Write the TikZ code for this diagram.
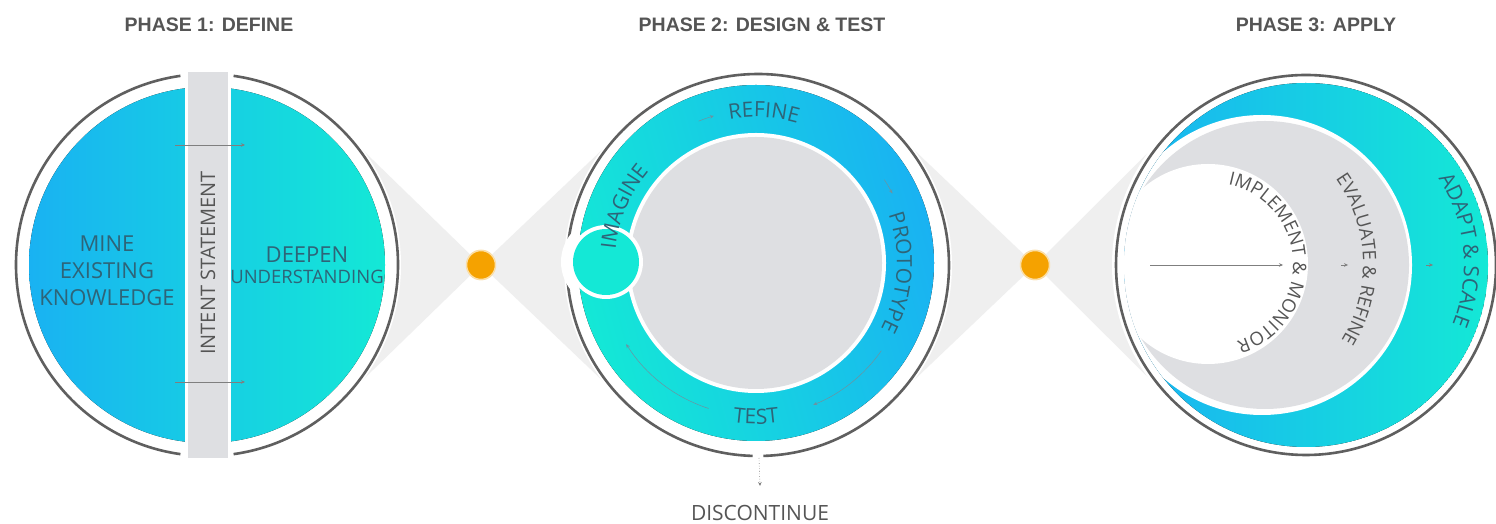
\documentclass[tikz,border=0pt]{standalone}
\usepackage{fontspec}
\setmainfont{Open Sans}
\newfontfamily\headfont{Liberation Sans}
\usetikzlibrary{calc,positioning,arrows.meta,decorations.text}

\definecolor{cyanC}{HTML}{14E8D6}
\definecolor{blueC}{HTML}{19B2F2}
\definecolor{ringC}{HTML}{5F5F5F}
\definecolor{greyC}{HTML}{DEDFE2}
\definecolor{bowC}{HTML}{EFEFEF}
\definecolor{dotC}{HTML}{F5A200}
\definecolor{txtC}{HTML}{2E6478}
\definecolor{labC}{HTML}{555555}

\newcommand\bandfont{\fontsize{21}{21}\selectfont}
\newcommand\arcfont{\fontsize{18.5}{18.5}\selectfont}

\begin{document}
\begin{tikzpicture}[x=1pt,y=1pt,
  lbl/.style={text=txtC, align=center, inner sep=0},
  ttl/.style={text=labC, inner sep=0, font=\headfont\bfseries\fontsize{19.5}{20}\selectfont},
  ringline/.style={draw=ringC, line width=2.6pt},
  flow/.style={draw=ringC!80, line width=0.6pt, -{Stealth[length=4pt,width=3.5pt]}}]
\tikzstyle{hub}=[circle, inner sep=0, outer sep=0, minimum size=382pt]
\tikzstyle{dot}=[circle, fill=dotC, draw=dotC!35, line width=1.5pt, minimum size=29pt, inner sep=0]
\fill[white] (0,0) rectangle (1496,524);
\useasboundingbox (0,0) rectangle (1496,524);

% centres
\node[hub] (circL) at (207,259) {};
\node[hub] (circM) at (758,259) {};
\node[hub] (circR) at (1306,259) {};
\coordinate (bandM) at (756,261);
\node[dot] (dotA) at (481,259) {};
\node[dot] (dotB) at (1035,259) {};

% grey bow ties
\coordinate (tA1) at (tangent cs:node=circL,point={(dotA)},solution=1);
\coordinate (tA2) at (tangent cs:node=circL,point={(dotA)},solution=2);
\coordinate (tA3) at (tangent cs:node=circM,point={(dotA)},solution=1);
\coordinate (tA4) at (tangent cs:node=circM,point={(dotA)},solution=2);
\coordinate (tB1) at (tangent cs:node=circM,point={(dotB)},solution=1);
\coordinate (tB2) at (tangent cs:node=circM,point={(dotB)},solution=2);
\coordinate (tB3) at (tangent cs:node=circR,point={(dotB)},solution=1);
\coordinate (tB4) at (tangent cs:node=circR,point={(dotB)},solution=2);
\fill[bowC] (dotA.center) -- (tA1) -- (circL.center) -- (tA2) -- cycle;
\fill[bowC] (dotA.center) -- (tA3) -- (circM.center) -- (tA4) -- cycle;
\fill[bowC] (dotB.center) -- (tB1) -- (circM.center) -- (tB2) -- cycle;
\fill[bowC] (dotB.center) -- (tB3) -- (circR.center) -- (tB4) -- cycle;
\foreach \c in {circL,circM,circR}{\fill[white] (\c.center) circle (194);}
\node[dot] at (dotA) {};
\node[dot] at (dotB) {};

% phase 1
\draw[ringline] ($(circL)+(82:191)$) arc[start angle=82, end angle=-82, radius=191];
\draw[ringline] ($(circL)+(98:191)$) arc[start angle=98, end angle=262, radius=191];
\fill[left color=blueC, right color=cyanC] (circL) circle (178);
\fill[white] (185,62) rectangle (231,456);
\fill[greyC] (188,66) rectangle (228,452);
\node[lbl, font=\fontsize{20}{20}\selectfont, text=labC, rotate=90] (intent) at (208,261) {INTENT STATEMENT};
\node[lbl, font=\fontsize{22}{27}\selectfont] (mine) at (107,253) {MINE\\EXISTING\\KNOWLEDGE};
\node[lbl, font=\fontsize{22}{22}\selectfont] (deepen) at (307,269) {DEEPEN};
\node[lbl, font=\fontsize{18.5}{18.5}\selectfont, below=7pt of deepen] (under) {UNDERSTANDING};
\foreach \yy/\nm in {379/up,142/dn}{
  \coordinate (\nm0) at (175,\yy);
  \coordinate (\nm1) at (245,\yy);
  \draw[flow] (\nm0) -- (\nm1);
}

% phase 2
\draw[ringline] ($(circM)+(-88.4:191)$) arc[start angle=-88.4, end angle=268.4, radius=191];
\coordinate (imag) at (606,262);
\fill[white] (imag) circle (45);
\fill[left color=cyanC, right color=blueC, shading angle=105] (bandM) circle (178);
\fill[white] (bandM) circle (130);
\fill[greyC] (bandM) circle (126);
\fill[white] (imag) circle (37);
\fill[cyanC] (imag) circle (33);
\path[decorate, decoration={text along path, text={|\bandfont|REFINE}, text align=center, text color=txtC}]
  ($(bandM)+(137:146)$) arc[start angle=137, end angle=37, radius=146];
\path[decorate, decoration={text along path, text={|\bandfont|PROTOTYPE}, text align=center, text color=txtC}]
  ($(bandM)+(46:141)$) arc[start angle=46, end angle=-54, radius=141];
\path[decorate, decoration={text along path, text={|\bandfont|TEST}, text align=center, text color=txtC}]
  ($(bandM)+(220:161)$) arc[start angle=220, end angle=320, radius=161];
\path[decorate, decoration={text along path, text={|\bandfont|IMAGINE}, text align=center, text color=txtC}]
  ($(bandM)+(207:141)$) arc[start angle=207, end angle=107, radius=141];
\foreach \a/\b in {112/106,33/27,-35/-68,-108/-148}{
  \draw[flow, draw=txtC!70, line width=0.5pt] ($(bandM)+(\a:153)$) arc[start angle=\a, end angle=\b, radius=153];
}
\coordinate (gapM) at (759,66);
\coordinate (endM) at (760,38);
\draw[flow, dotted] (gapM) -- (endM);
\node[text=labC, inner sep=0, font=\fontsize{21}{21}\selectfont] (disc) at (760,11) {DISCONTINUE};

% phase 3
\draw[ringline] (circR) circle (190);
\begin{scope}
  \clip (circR) circle (182);
  \fill[left color=blueC, right color=cyanC] (circR) circle (182);
  \fill[white] (1262,259) circle (150);
  \fill[greyC] (1265,259) circle (144);
  \fill[white] (1208,260) circle (100);
\end{scope}
\coordinate (tailR) at (1150,259);
\coordinate (headR) at (1283,259);
\draw[flow] (tailR) -- (headR);
\foreach \xx/\nm in {1348/ev,1433/ad}{
  \coordinate (\nm0) at (\xx-7,259);
  \coordinate (\nm1) at (\xx,259);
  \draw[flow, line width=0.4pt] (\nm0) -- (\nm1);
}
\path[decorate, decoration={text along path, text={|\arcfont|IMPLEMENT {\&} MONITOR}, text align=center, text color=labC}]
  ($(1212,260)+(93:81)$) arc[start angle=93, end angle=-87, radius=81];
\path[decorate, decoration={text along path, text={|\arcfont|EVALUATE {\&} REFINE}, text align=center, text color=labC}]
  ($(1216,260)+(62:147)$) arc[start angle=62, end angle=-58, radius=147];
\path[decorate, decoration={text along path, text={|\bandfont|ADAPT {\&} SCALE}, text align=center, text color=txtC}]
  ($(circR)+(45:158)$) arc[start angle=45, end angle=-34, radius=158];

% titles
\node[ttl] (ph1) at (209,499) {PHASE 1: DEFINE};
\node[ttl] (ph2) at (762,499) {PHASE 2: DESIGN \& TEST};
\node[ttl] (ph3) at (1316,499) {PHASE 3: APPLY};
\end{tikzpicture}
\end{document}
